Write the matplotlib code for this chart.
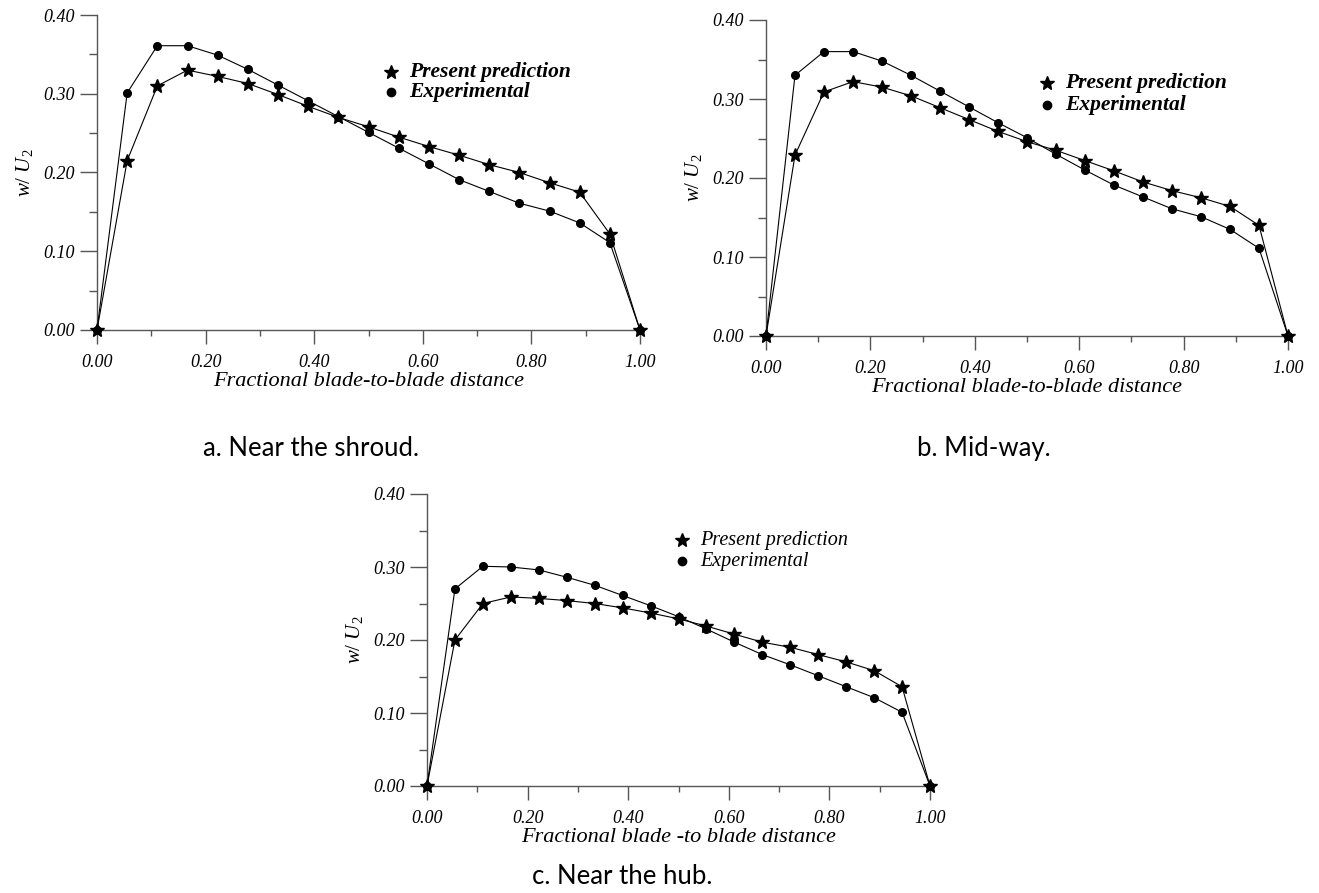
import numpy as np
import matplotlib.pyplot as plt
from matplotlib.ticker import MultipleLocator, FormatStrFormatter

# posiciones fraccionales (19 puntos, paso 1/18)
x = [i / 18 for i in range(19)]

# a. cerca del shroud
pred_a = [0.0, 0.215, 0.31, 0.33, 0.322, 0.313, 0.299, 0.284, 0.270, 0.258, 0.245,
          0.233, 0.222, 0.210, 0.200, 0.187, 0.175, 0.122, 0.0]
exp_a = [0.0, 0.301, 0.361, 0.361, 0.349, 0.331, 0.311, 0.291, 0.271, 0.251, 0.231,
         0.211, 0.191, 0.176, 0.161, 0.151, 0.136, 0.111, 0.0]

# b. a mitad de camino
pred_b = [0.0, 0.229, 0.309, 0.322, 0.315, 0.304, 0.289, 0.274, 0.259, 0.246, 0.235,
          0.222, 0.209, 0.195, 0.184, 0.175, 0.164, 0.140, 0.0]
exp_b = [0.0, 0.330, 0.360, 0.360, 0.348, 0.330, 0.310, 0.290, 0.270, 0.251, 0.230,
         0.210, 0.191, 0.176, 0.161, 0.151, 0.135, 0.111, 0.0]

# c. cerca del hub
pred_c = [0.0, 0.200, 0.250, 0.259, 0.257, 0.254, 0.250, 0.244, 0.237, 0.229, 0.219,
          0.208, 0.197, 0.190, 0.180, 0.170, 0.158, 0.136, 0.0]
exp_c = [0.0, 0.270, 0.301, 0.300, 0.296, 0.286, 0.275, 0.261, 0.247, 0.232, 0.215,
         0.197, 0.180, 0.166, 0.151, 0.136, 0.121, 0.101, 0.0]

serif = 'Liberation Serif'
caption_font = 'Lato'
spine_col = '#555555'
plt.rcParams['mathtext.fontset'] = 'custom'
plt.rcParams['mathtext.it'] = 'Liberation Serif:italic'
plt.rcParams['mathtext.rm'] = 'Liberation Serif'

fig = plt.figure(figsize=(13.19, 8.93), dpi=100)


def panel(rect, pred, exp, xlabel, legend_weight, legend_size, leg_pos, leg_gap):
    ax = fig.add_axes(rect)
    ax.plot(x, exp, '-', color='black', lw=0.8, marker='o', ms=5.5, zorder=3, clip_on=False)
    ax.plot(x, pred, '-', color='black', lw=0.8, marker='*', ms=10, zorder=4, clip_on=False)
    ax.set_xlim(0, 1.0)
    ax.set_ylim(0, 0.40)
    for s in ['top', 'right']:
        ax.spines[s].set_visible(False)
    for s in ['left', 'bottom']:
        ax.spines[s].set_color(spine_col)
        ax.spines[s].set_linewidth(1.0)
    ax.xaxis.set_major_locator(MultipleLocator(0.2))
    ax.xaxis.set_minor_locator(MultipleLocator(0.1))
    ax.yaxis.set_major_locator(MultipleLocator(0.1))
    ax.yaxis.set_minor_locator(MultipleLocator(0.05))
    ax.xaxis.set_major_formatter(FormatStrFormatter('%.2f'))
    ax.yaxis.set_major_formatter(FormatStrFormatter('%.2f'))
    ax.tick_params(which='both', direction='out', width=1.0, color=spine_col, labelsize=13)
    ax.tick_params(axis='x', which='major', length=10, pad=7)
    ax.tick_params(axis='x', which='minor', length=4.5)
    ax.tick_params(axis='y', which='major', length=12, pad=4)
    ax.tick_params(axis='y', which='minor', length=5.5)
    for lab in ax.get_xticklabels() + ax.get_yticklabels():
        lab.set_fontfamily(serif)
        lab.set_fontstyle('italic')
    ax.set_xlabel(xlabel, fontfamily=serif, fontstyle='italic', fontsize=16, labelpad=1)
    ax.set_ylabel(r'$w$/ $U_2$', fontfamily=serif, fontsize=15, labelpad=6)
    # leyenda hecha a mano
    lx, ly = leg_pos
    for yy, mk, ms, txt in [(ly, '*', 10, 'Present prediction'),
                            (ly - leg_gap, 'o', 6, 'Experimental')]:
        ax.plot([lx], [yy], marker=mk, color='black', ms=ms, transform=ax.transAxes,
                clip_on=False)
        ax.annotate(txt, xy=(lx, yy), xycoords='axes fraction', xytext=(13, 0),
                    textcoords='offset points', fontfamily=serif, fontstyle='italic',
                    fontweight=legend_weight, fontsize=legend_size, va='center')
    return ax


panel([97 / 1319, 1 - 330 / 893, 543 / 1319, 315 / 893], pred_a, exp_a,
      'Fractional blade-to-blade distance', 'bold', 15.5, (0.541, 0.819), 0.064)
panel([766 / 1319, 1 - 336 / 893, 522 / 1319, 316 / 893], pred_b, exp_b,
      'Fractional blade-to-blade distance', 'bold', 15.5, (0.538, 0.80), 0.070)
panel([427 / 1319, 1 - 786 / 893, 503 / 1319, 292 / 893], pred_c, exp_c,
      'Fractional blade -to blade distance', 'normal', 14.5, (0.507, 0.842), 0.072)

fig.text(311 / 1319, 1 - 449 / 893, 'a. Near the shroud.', ha='center', va='center',
         fontfamily=caption_font, fontsize=18.5)
fig.text(984 / 1319, 1 - 449 / 893, 'b. Mid-way.', ha='center', va='center',
         fontfamily=caption_font, fontsize=18.5)
fig.text(622 / 1319, 1 - 877 / 893, 'c. Near the hub.', ha='center', va='center',
         fontfamily=caption_font, fontsize=18.5)

fig.savefig('out.png', dpi=100)
